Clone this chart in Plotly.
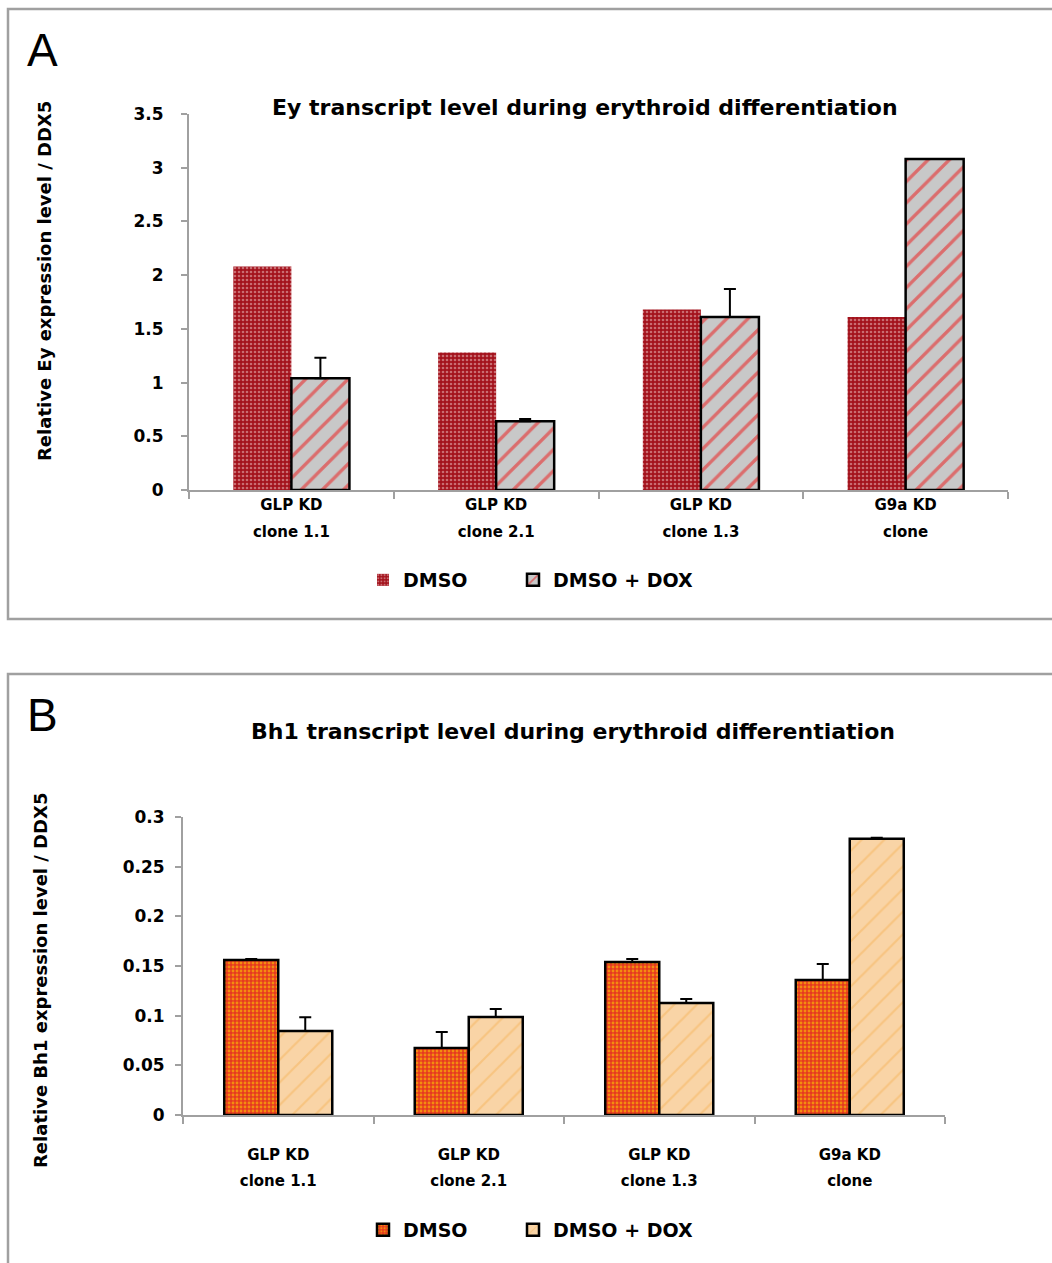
import plotly.graph_objects as go

W, H = 1052, 1263

# ---------------- data ----------------
categories = ["GLP KD clone 1.1", "GLP KD clone 2.1", "GLP KD clone 1.3", "G9a KD clone"]
cat_line1 = ["GLP KD", "GLP KD", "GLP KD", "G9a KD"]
cat_line2 = ["clone 1.1", "clone 2.1", "clone 1.3", "clone"]

ey_dmso = [2.08, 1.28, 1.68, 1.61]
ey_dox = [1.04, 0.64, 1.61, 3.08]
ey_dox_err = [0.19, 0.02, 0.26, 0.0]

bh1_dmso = [0.156, 0.0675, 0.154, 0.136]
bh1_dmso_err = [0.001, 0.016, 0.003, 0.016]
bh1_dox = [0.0845, 0.0987, 0.1127, 0.278]
bh1_dox_err = [0.014, 0.008, 0.004, 0.001]

ey_ticks = [0, 0.5, 1, 1.5, 2, 2.5, 3, 3.5]
ey_ticktext = ["0", "0.5", "1", "1.5", "2", "2.5", "3", "3.5"]
bh1_ticks = [0, 0.05, 0.1, 0.15, 0.2, 0.25, 0.3]
bh1_ticktext = ["0", "0.05", "0.1", "0.15", "0.2", "0.25", "0.3"]

series_names = ["DMSO", "DMSO + DOX"]
title_a = "Ey transcript level during erythroid differentiation"
title_b = "Bh1 transcript level during erythroid differentiation"
ytitle_a = "Relative Ey expression level / DDX5"
ytitle_b = "Relative Bh1 expression level / DDX5"


def px(x):
    return x / W


def py(y):
    return 1 - y / H


FONT = "DejaVu Sans"
AXIS_GRAY = "#a0a0a0"

fig = go.Figure()

# Panel A
fig.add_trace(go.Bar(
    x=categories, y=ey_dmso, name=series_names[0], xaxis="x", yaxis="y", legend="legend",
    marker=dict(color="#a3121c", line=dict(width=0),
                pattern=dict(shape=".", fgcolor="#f0c8c8", bgcolor="#a3121c", size=4, solidity=0.35)),
))
fig.add_trace(go.Bar(
    x=categories, y=ey_dox, name=series_names[1], xaxis="x", yaxis="y", legend="legend3",
    marker=dict(color="#c8c8c8", line=dict(width=2.5, color="black"),
                pattern=dict(shape="/", fgcolor="#ee1111", bgcolor="#c8c8c8", size=15, solidity=0.22)),
    error_y=dict(type="data", symmetric=False, array=ey_dox_err, arrayminus=[0] * 4,
                 color="black", thickness=2, width=6),
))

# Panel B
fig.add_trace(go.Bar(
    x=categories, y=bh1_dmso, name=series_names[0], xaxis="x2", yaxis="y2", legend="legend2",
    marker=dict(color="#e63a20", line=dict(width=2.5, color="black"),
                pattern=dict(shape=".", fgcolor="#ffe000", bgcolor="#e63a20", size=4, solidity=0.4)),
    error_y=dict(type="data", symmetric=False, array=bh1_dmso_err, arrayminus=[0] * 4,
                 color="black", thickness=2, width=6),
))
fig.add_trace(go.Bar(
    x=categories, y=bh1_dox, name=series_names[1], xaxis="x2", yaxis="y2", legend="legend4",
    marker=dict(color="#f9d4a6", line=dict(width=2.5, color="black"),
                pattern=dict(shape="/", fgcolor="#f6b45c", bgcolor="#f9d4a6", size=16, solidity=0.14)),
    error_y=dict(type="data", symmetric=False, array=bh1_dox_err, arrayminus=[0] * 4,
                 color="black", thickness=2, width=6),
))

# carriers for the second line of the category labels (no visible marks)
fig.add_trace(go.Scatter(x=categories, y=[None] * len(categories), xaxis="x3", yaxis="y",
                         mode="markers", showlegend=False, hoverinfo="skip"))
fig.add_trace(go.Scatter(x=categories, y=[None] * len(categories), xaxis="x4", yaxis="y2",
                         mode="markers", showlegend=False, hoverinfo="skip"))

tickfont = dict(family=FONT, size=17, color="black", weight="bold")
xtickfont = dict(family=FONT, size=15, color="black", weight="bold")

common_x = dict(type="category", tickson="boundaries", ticks="outside", ticklen=7, tickcolor=AXIS_GRAY,
                tickwidth=2, showline=True, linecolor=AXIS_GRAY, linewidth=2, showgrid=False,
                tickfont=xtickfont, automargin=False, tickvals=categories, ticktext=cat_line1,
                range=[-0.5, 3.5])
second_line = dict(type="category", categoryorder="array", categoryarray=categories,
                   range=[-0.5, 3.5], tickvals=categories, ticktext=cat_line2,
                   showline=False, ticks="", showgrid=False, zeroline=False, tickfont=xtickfont,
                   automargin=False)
common_y = dict(ticks="outside", ticklen=6, tickcolor=AXIS_GRAY, tickwidth=2, showline=True,
                linecolor=AXIS_GRAY, linewidth=2, showgrid=False, zeroline=False, tickfont=tickfont,
                automargin=False)

legend_font = dict(family=FONT, size=19, color="black", weight="bold")


def leg(x, y):
    return dict(orientation="h", x=px(x), xanchor="left", y=py(y), yanchor="middle",
                font=legend_font, bgcolor="rgba(0,0,0,0)")


fig.update_layout(
    width=W, height=H,
    margin=dict(l=0, r=0, t=0, b=0, autoexpand=False),
    paper_bgcolor="white", plot_bgcolor="white",
    barmode="group", bargap=0.433, bargroupgap=0,
    showlegend=True,
    xaxis=dict(domain=[px(189), px(1008)], anchor="y", ticklabelstandoff=0, **common_x),
    xaxis3=dict(domain=[px(189), px(1008)], anchor="y", overlaying="x", ticklabelstandoff=31, **second_line),
    yaxis=dict(domain=[py(490), py(114)], anchor="x", range=[0, 3.5],
               tickvals=ey_ticks, ticktext=ey_ticktext, ticklabelstandoff=14, **common_y),
    xaxis2=dict(domain=[px(183), px(945)], anchor="y2", ticklabelstandoff=25, **common_x),
    xaxis4=dict(domain=[px(183), px(945)], anchor="y2", overlaying="x2", ticklabelstandoff=55, **second_line),
    yaxis2=dict(domain=[py(1115), py(817)], anchor="x2", range=[0, 0.3],
                tickvals=bh1_ticks, ticktext=bh1_ticktext, ticklabelstandoff=7, **common_y),
    legend=leg(363, 580),
    legend3=leg(513, 580),
    legend2=leg(363, 1230),
    legend4=leg(513, 1230),
)

annotations = [
    dict(text=title_a, x=px(585), y=py(108), font=dict(family=FONT, size=22, weight="bold")),
    dict(text=title_b, x=px(573), y=py(731), font=dict(family=FONT, size=22, weight="bold")),
    dict(text=ytitle_a, x=px(44), y=py(281), textangle=-90, font=dict(family=FONT, size=18, weight="bold")),
    dict(text=ytitle_b, x=px(40), y=py(981), textangle=-90, font=dict(family=FONT, size=18, weight="bold")),
    dict(text="A", x=px(42), y=py(50), font=dict(family="Liberation Sans", size=46)),
    dict(text="B", x=px(42), y=py(715), font=dict(family="Liberation Sans", size=46)),
]
for a in annotations:
    a.update(xref="paper", yref="paper", showarrow=False, xanchor="center", yanchor="middle")
    a["font"].setdefault("color", "black")
fig.update_layout(annotations=annotations)

fig.update_layout(shapes=[
    dict(type="rect", xref="paper", yref="paper", x0=px(8), x1=px(1070), y0=py(619), y1=py(9),
         line=dict(color=AXIS_GRAY, width=2.5), fillcolor="rgba(0,0,0,0)", layer="below"),
    dict(type="rect", xref="paper", yref="paper", x0=px(8), x1=px(1070), y0=py(1280), y1=py(674),
         line=dict(color=AXIS_GRAY, width=2.5), fillcolor="rgba(0,0,0,0)", layer="below"),
])

fig.write_html("out.html", config={"displayModeBar": False},
               post_script="document.body.style.margin='0px';")
